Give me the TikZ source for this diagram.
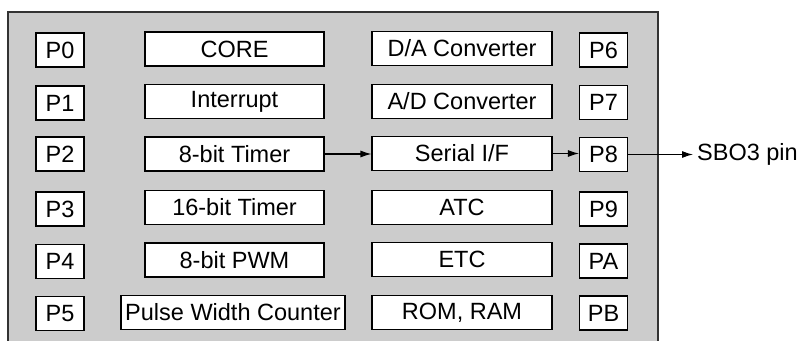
\documentclass[tikz,border=0pt]{standalone}
\usepackage{fontspec}
\setmainfont{Liberation Sans}
\usetikzlibrary{arrows.meta}
\begin{document}
\begin{tikzpicture}[x=1pt,y=-1pt,
  font=\fontsize{23.5}{26}\selectfont,
  blk/.style={draw=black,fill=white,line width=1.1pt,minimum height=34pt,inner sep=0pt,anchor=center},
  pbox/.style={blk,minimum width=48pt},
  lbox/.style={blk,minimum width=179pt},
  rbox/.style={blk,minimum width=180pt},
  conn/.style={line width=1.1pt,-{Latex[length=11pt,width=7pt]}}]
\useasboundingbox (0,0) rectangle (810,340);
\fill[black!20] (8,12) rectangle (658,345);
\draw[line width=1.3pt,black!80] (8,345) -- (8,12) -- (658,12) -- (658,345);
% left ports
\node[pbox] (p0) at (60,50) {P0};
\node[pbox] (p1) at (60,103) {P1};
\node[pbox] (p2) at (60,154) {P2};
\node[pbox] (p3) at (60,209) {P3};
\node[pbox] (p4) at (60,261.5) {P4};
\node[pbox] (p5) at (60,313.5) {P5};
% left modules
\node[lbox] (core) at (234.5,49) {CORE};
\node[lbox] (intr) at (234.5,101.5) {Interrupt};
\node[lbox] (t8) at (234.5,154) {8-bit Timer};
\node[lbox] (t16) at (234.5,207.5) {16-bit Timer};
\node[lbox] (pwm) at (234.5,260) {8-bit PWM};
\node[blk,minimum width=224pt] (pwc) at (233,312.5) {Pulse Width Counter};
% right modules
\node[rbox] (da) at (462,48.5) {D/A Converter};
\node[rbox] (ad) at (462,101.5) {A/D Converter};
\node[rbox] (sif) at (462,153.5) {Serial I/F};
\node[rbox] (atc) at (462,207.5) {ATC};
\node[rbox] (etc) at (462,259.5) {ETC};
\node[rbox] (mem) at (462,312.5) {ROM, RAM};
% right ports
\node[pbox] (p6) at (603.5,50) {P6};
\node[pbox] (p7) at (603.5,102.5) {P7};
\node[pbox] (p8) at (603.5,154.5) {P8};
\node[pbox] (p9) at (603.5,209) {P9};
\node[pbox] (pa) at (603.5,261) {PA};
\node[pbox] (pb) at (603.5,313) {PB};
% output
\node[anchor=west,inner sep=0pt] (sbo) at (697,154.5) {SBO3 pin};
\draw[conn] (t8.east) -- (sif.west |- t8.east);
\draw[conn] (sif.east) -- (p8.west |- sif.east);
\draw[conn] (p8.east) -- ([xshift=-4pt]sbo.west);
\end{tikzpicture}
\end{document}
